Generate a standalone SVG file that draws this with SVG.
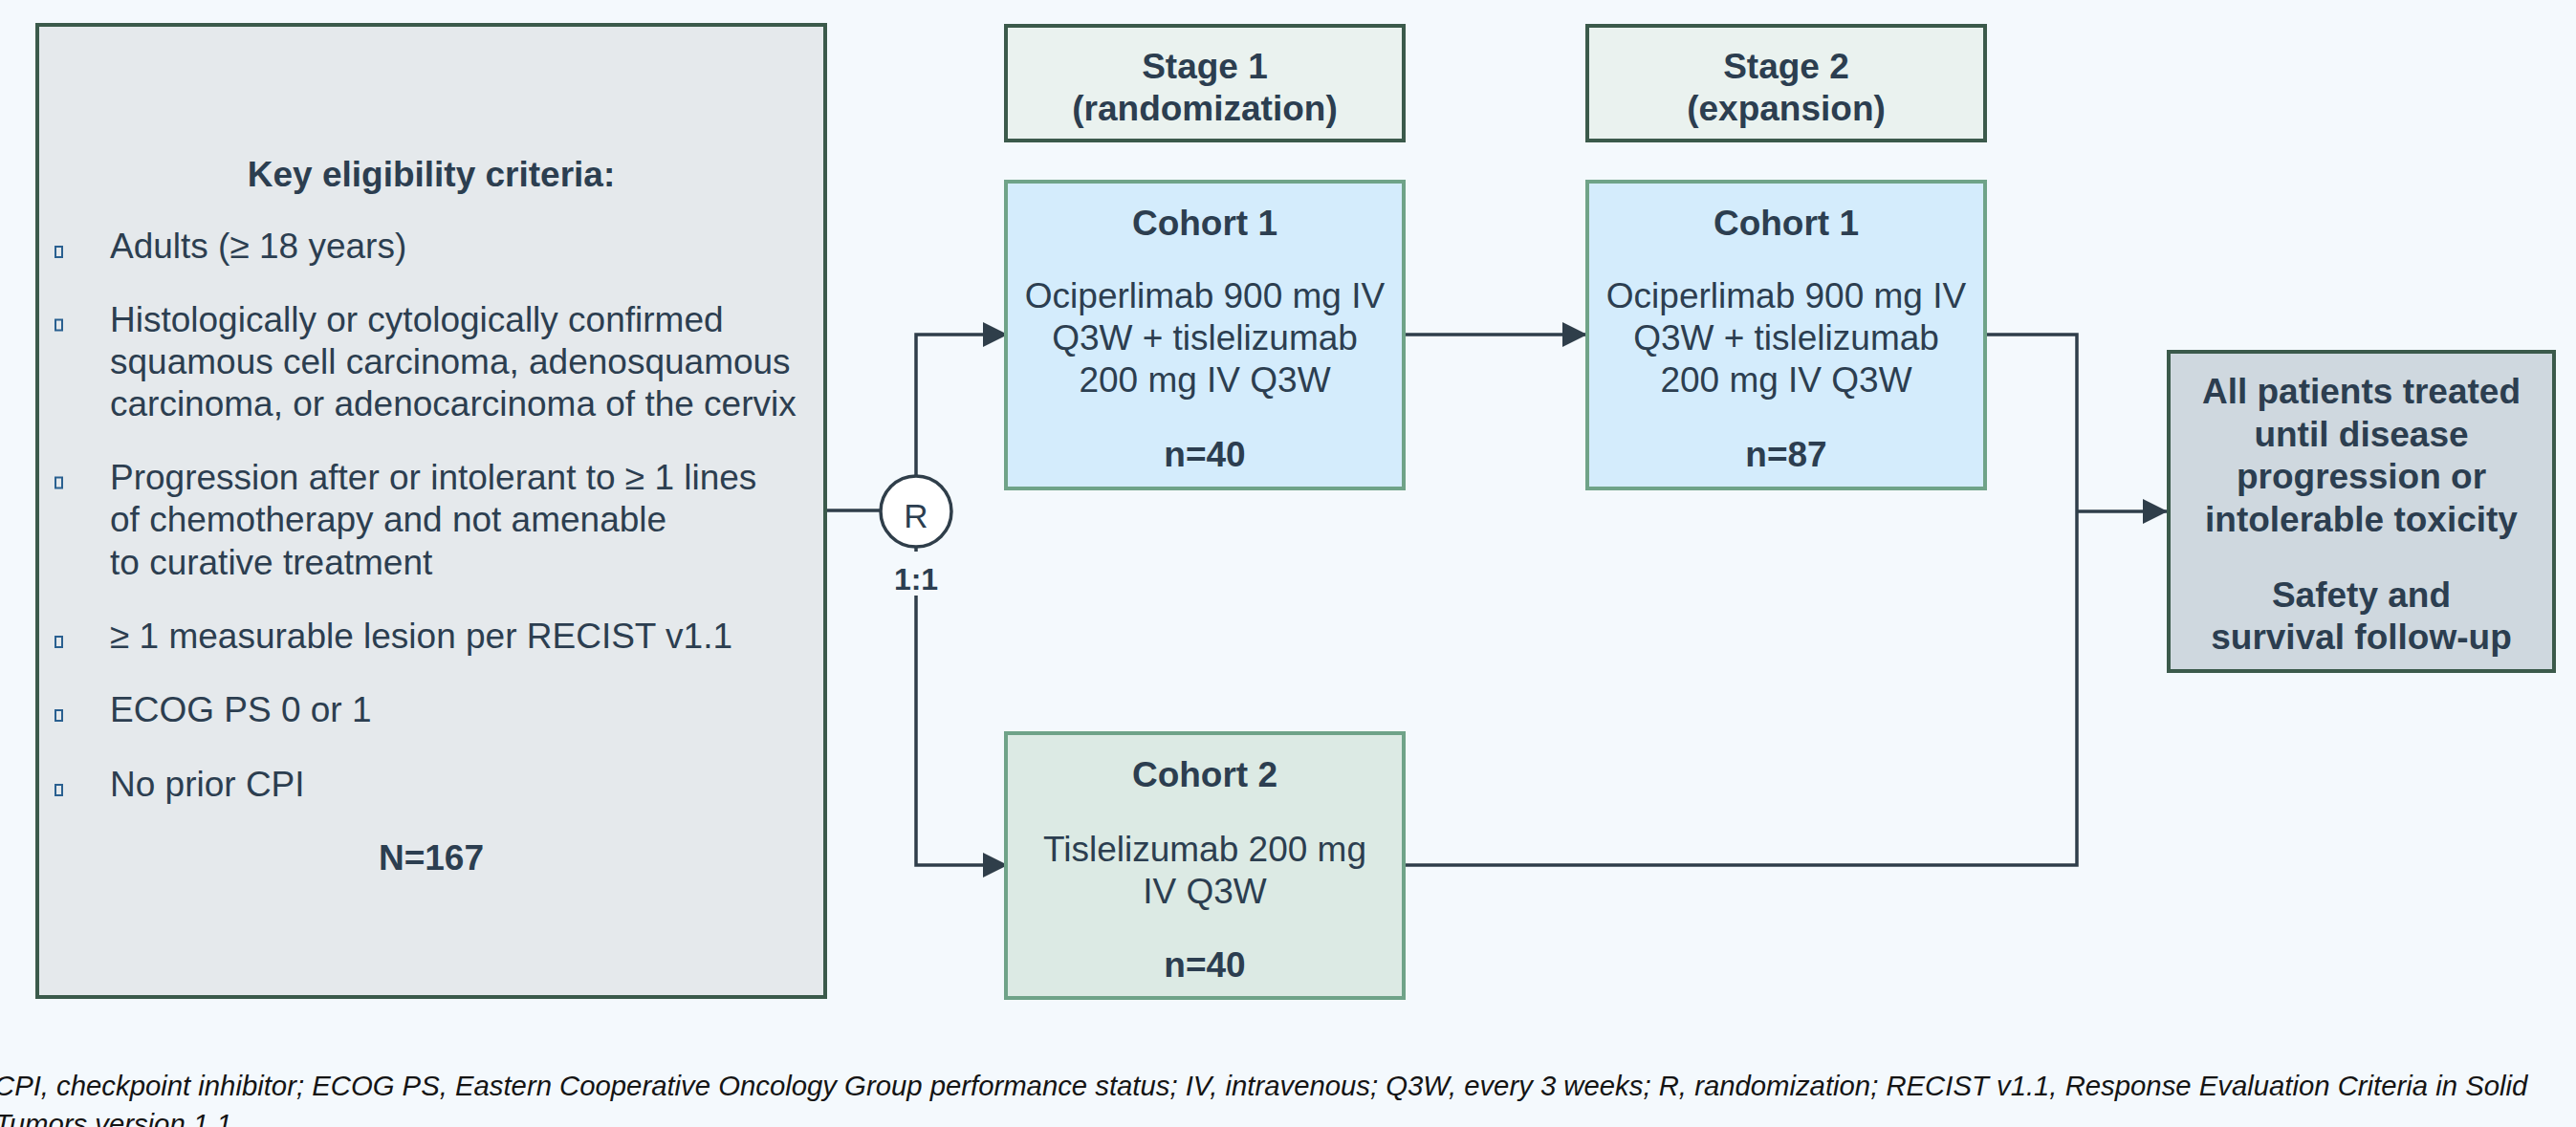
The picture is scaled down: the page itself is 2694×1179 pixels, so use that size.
<svg xmlns="http://www.w3.org/2000/svg" width="2694" height="1179" viewBox="0 0 2694 1179">
  <defs>
    <style>
      .t { font-family: "Liberation Sans", Arial, sans-serif; font-size: 37px; fill: #2c3e50; }
      .b { font-weight: bold; }
      .c { text-anchor: middle; }
      .dark { stroke: #3b5a4b; stroke-width: 4; }
      .soft { stroke: #6fa388; stroke-width: 4; }
      .conn { stroke: #2f3e4a; stroke-width: 3.5; fill: none; }
      .bul { fill: none; stroke: #2a6090; stroke-width: 2; }
      .foot { font-family: "Liberation Sans", Arial, sans-serif; font-size: 29.3px; font-style: italic; fill: #141414; }
    </style>
    <marker id="arr" markerUnits="userSpaceOnUse" markerWidth="26" markerHeight="26" viewBox="0 0 26 26" refX="26" refY="13" orient="auto">
      <path d="M0,0 L26,13 L0,26 z" fill="#2f3e4a"/>
    </marker>
  </defs>
  <rect x="0" y="0" width="2694" height="1179" fill="#f4f9fd"/>

  <g id="eligibility">
    <rect x="39" y="26" width="824" height="1017" fill="#e5e9ec" class="dark"/>
    <text class="t b c" x="451" y="195">Key eligibility criteria:</text>
    <rect class="bul" x="58" y="258" width="7" height="11"/>
    <text class="t" x="115" y="270">Adults (≥ 18 years)</text>
    <rect class="bul" x="58" y="334.5" width="7" height="11"/>
    <text class="t" x="115" y="346.5">Histologically or cytologically confirmed</text>
    <text class="t" x="115" y="391">squamous cell carcinoma, adenosquamous</text>
    <text class="t" x="115" y="435">carcinoma, or adenocarcinoma of the cervix</text>
    <rect class="bul" x="58" y="499.5" width="7" height="11"/>
    <text class="t" x="115" y="511.5">Progression after or intolerant to ≥ 1 lines</text>
    <text class="t" x="115" y="556">of chemotherapy and not amenable</text>
    <text class="t" x="115" y="601">to curative treatment</text>
    <rect class="bul" x="58" y="666" width="7" height="11"/>
    <text class="t" x="115" y="678">≥ 1 measurable lesion per RECIST v1.1</text>
    <rect class="bul" x="58" y="743" width="7" height="11"/>
    <text class="t" x="115" y="755">ECOG PS 0 or 1</text>
    <rect class="bul" x="58" y="821" width="7" height="11"/>
    <text class="t" x="115" y="833">No prior CPI</text>
    <text class="t b c" x="451" y="910">N=167</text>
  </g>

  <g id="stage1">
    <rect x="1052" y="27" width="416" height="120" fill="#eaf2ef" class="dark"/>
    <text class="t b c" x="1260" y="82">Stage 1</text>
    <text class="t b c" x="1260" y="126">(randomization)</text>
  </g>

  <g id="stage2">
    <rect x="1660" y="27" width="416" height="120" fill="#eaf2ef" class="dark"/>
    <text class="t b c" x="1868" y="82">Stage 2</text>
    <text class="t b c" x="1868" y="126">(expansion)</text>
  </g>

  <g id="connectors">
    <path class="conn" d="M865,534 H920"/>
    <path class="conn" d="M958,497 V350 H1054" marker-end="url(#arr)"/>
    <path class="conn" d="M958,573 V905 H1054" marker-end="url(#arr)"/>
    <path class="conn" d="M1470,350 H1660" marker-end="url(#arr)"/>
    <path class="conn" d="M2078,350 H2172 V905 H1470"/>
    <path class="conn" d="M2172,535 H2267" marker-end="url(#arr)"/>
  </g>

  <g id="randomization">
    <circle cx="958" cy="535" r="37" fill="#ffffff" stroke="#2f3e4a" stroke-width="3.5"/>
    <text class="t c" x="958" y="552" style="font-size:35px">R</text>
    <rect x="938" y="577" width="40" height="46" fill="#f4f9fd"/>
    <text class="t b c" x="958" y="617" style="font-size:32px">1:1</text>
  </g>

  <g id="s1-cohort1">
    <rect x="1052" y="190" width="416" height="321" fill="#d4ecfc" class="soft"/>
    <text class="t b c" x="1260" y="246">Cohort 1</text>
    <text class="t c" x="1260" y="322">Ociperlimab 900 mg IV</text>
    <text class="t c" x="1260" y="366">Q3W + tislelizumab</text>
    <text class="t c" x="1260" y="410">200 mg IV Q3W</text>
    <text class="t b c" x="1260" y="488">n=40</text>
  </g>

  <g id="s1-cohort2">
    <rect x="1052" y="767" width="416" height="277" fill="#dceae4" class="soft"/>
    <text class="t b c" x="1260" y="823">Cohort 2</text>
    <text class="t c" x="1260" y="901">Tislelizumab 200 mg</text>
    <text class="t c" x="1260" y="945">IV Q3W</text>
    <text class="t b c" x="1260" y="1022">n=40</text>
  </g>

  <g id="s2-cohort1">
    <rect x="1660" y="190" width="416" height="321" fill="#d4ecfc" class="soft"/>
    <text class="t b c" x="1868" y="246">Cohort 1</text>
    <text class="t c" x="1868" y="322">Ociperlimab 900 mg IV</text>
    <text class="t c" x="1868" y="366">Q3W + tislelizumab</text>
    <text class="t c" x="1868" y="410">200 mg IV Q3W</text>
    <text class="t b c" x="1868" y="488">n=87</text>
  </g>

  <g id="outcome">
    <rect x="2268" y="368" width="403" height="334" fill="#cfd8df" class="dark"/>
    <text class="t b c" x="2469.5" y="422">All patients treated</text>
    <text class="t b c" x="2469.5" y="467">until disease</text>
    <text class="t b c" x="2469.5" y="511">progression or</text>
    <text class="t b c" x="2469.5" y="556">intolerable toxicity</text>
    <text class="t b c" x="2469.5" y="635">Safety and</text>
    <text class="t b c" x="2469.5" y="679">survival follow-up</text>
  </g>

  <g id="footnote">
    <text class="foot" x="-6" y="1146">CPI, checkpoint inhibitor; ECOG PS, Eastern Cooperative Oncology Group performance status; IV, intravenous; Q3W, every 3 weeks; R, randomization; RECIST v1.1, Response Evaluation Criteria in Solid</text>
    <text class="foot" x="-6" y="1186">Tumors version 1.1</text>
  </g>
</svg>
